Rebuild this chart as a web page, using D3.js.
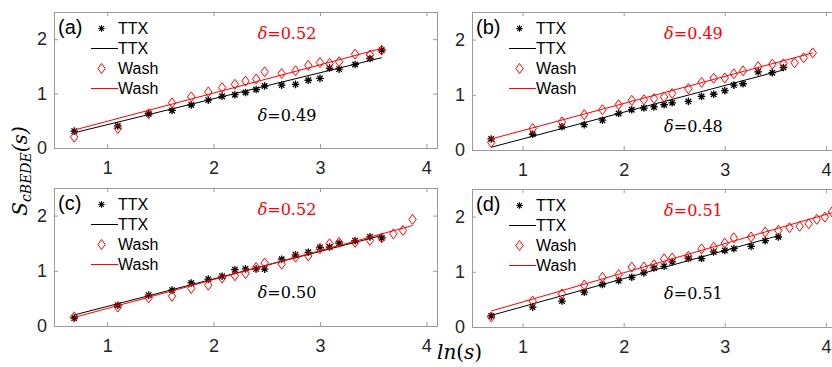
<!DOCTYPE html>
<html>
<head>
<meta charset="utf-8">
<script src="https://cdn.jsdelivr.net/npm/d3@7"></script>
<style>
  html, body { margin: 0; padding: 0; background: #fff; overflow: hidden; }
  svg { display: block; }
</style>
</head>
<body>
<div id="chart"></div>
<script>
// ── Data (x = ln(s), y = S_cBEDE(s)) ───────────────────────────────────────
const xBase = [0.69, 1.10, 1.39, 1.61, 1.79, 1.95, 2.08, 2.20, 2.30, 2.40, 2.48, 2.64, 2.77, 2.89, 3.00, 3.09, 3.18, 3.33, 3.47, 3.58];
const xLong = [0.69, 1.10, 1.39, 1.61, 1.79, 1.95, 2.08, 2.20, 2.30, 2.40, 2.48, 2.64, 2.77, 2.89, 3.00, 3.09, 3.18, 3.33, 3.47, 3.58, 3.69, 3.78, 3.87];
const xD = [0.69, 1.10, 1.39, 1.61, 1.79, 1.95, 2.08, 2.20, 2.30, 2.40, 2.48, 2.64, 2.77, 2.89, 3.00, 3.09, 3.26, 3.40, 3.53];
const xDLong = [0.69, 1.10, 1.39, 1.61, 1.79, 1.95, 2.08, 2.20, 2.30, 2.40, 2.48, 2.64, 2.77, 2.89, 3.00, 3.09, 3.26, 3.40, 3.53, 3.64, 3.74, 3.83, 3.91, 3.99, 4.06];

const ttxA = [0.31, 0.405, 0.63, 0.69, 0.79, 0.88, 0.95, 0.98, 1.02, 1.075, 1.14, 1.155, 1.17, 1.245, 1.28, 1.47, 1.45, 1.535, 1.645, 1.80];
const washA = [0.20, 0.36, 0.63, 0.83, 0.94, 1.03, 1.11, 1.17, 1.23, 1.27, 1.40, 1.37, 1.42, 1.52, 1.57, 1.555, 1.585, 1.725, 1.71, 1.80];
const ttxB = [0.20, 0.285, 0.42, 0.46, 0.54, 0.66, 0.73, 0.76, 0.78, 0.82, 0.855, 0.88, 0.97, 1.01, 1.075, 1.175, 1.20, 1.415, 1.40, 1.495];
const washB = [0.14, 0.39, 0.51, 0.64, 0.73, 0.82, 0.90, 0.91, 0.93, 0.96, 1.025, 1.11, 1.225, 1.30, 1.305, 1.38, 1.435, 1.51, 1.555, 1.56, 1.58, 1.67, 1.76];
const ttxC = [0.145, 0.376, 0.56, 0.65, 0.78, 0.85, 0.90, 1.02, 1.035, 1.035, 1.03, 1.21, 1.29, 1.335, 1.425, 1.43, 1.50, 1.545, 1.615, 1.595];
const washC = [0.165, 0.345, 0.51, 0.54, 0.68, 0.74, 0.87, 0.91, 0.95, 1.06, 1.14, 1.12, 1.245, 1.27, 1.40, 1.49, 1.515, 1.515, 1.55, 1.595, 1.67, 1.73, 1.93];
const ttxD = [0.20, 0.36, 0.47, 0.63, 0.77, 0.84, 0.90, 0.98, 1.07, 1.10, 1.18, 1.24, 1.24, 1.36, 1.385, 1.42, 1.46, 1.565, 1.63];
const washD = [0.18, 0.47, 0.60, 0.76, 0.90, 0.95, 1.085, 1.085, 1.13, 1.235, 1.25, 1.28, 1.415, 1.445, 1.52, 1.615, 1.63, 1.72, 1.75, 1.80, 1.825, 1.87, 1.95, 1.99, 2.085];

// fitted lines: y at first and last x of each series
const fitTtx = [[0.28, 1.66], [0.05, 1.45], [0.20, 1.64], [0.21, 1.655]];
const fitWash = [[0.33, 1.83], [0.20, 1.76], [0.155, 1.82], [0.29, 2.07]];

const deltaWash = ["0.52", "0.49", "0.52", "0.51"];
const deltaTtx = ["0.49", "0.48", "0.50", "0.51"];
const panelLabels = ["(a)", "(b)", "(c)", "(d)"];
const legendLabels = ["TTX", "TTX", "Wash", "Wash"];
const xTicks = [1, 2, 3, 4];
const yTicks = [0, 1, 2];

// ── Layout ────────────────────────────────────────────────────────────────
const W = 832, H = 367;
const SANS = "'Liberation Sans', Arial, Helvetica, sans-serif";
const SERIF = "'DejaVu Serif', serif";
const RED = "#ff0000";
const FRAME = "#9a9a9a";

const panels = [
  { box: [54, 437, 12, 148], xT: xBase, yT: ttxA, xW: xBase, yW: washA, blackY: 0.60 },
  { box: [472, 836, 12, 150], xT: xBase, yT: ttxB, xW: xLong, yW: washB, blackY: 0.44 },
  { box: [54, 437, 188, 326], xT: xBase, yT: ttxC, xW: xLong, yW: washC, blackY: 0.62 },
  { box: [472, 836, 189, 327], xT: xD, yT: ttxD, xW: xDLong, yW: washD, blackY: 0.61 },
];

const svg = d3.select("#chart").append("svg").attr("width", W).attr("height", H)
  .style("font-family", SANS);

function starPath(r) {
  const a = r * 0.72;
  return `M${-r},0L${r},0M0,${-r}L0,${r}M${-a},${-a}L${a},${a}M${-a},${a}L${a},${-a}`;
}
const diamondPath = "M0,-5L3.7,0L0,5L-3.7,0Z";

panels.forEach((p, i) => {
  const [x0, x1, y0, y1] = p.box;
  const x = d3.scaleLinear().domain([0.5, 4.1]).range([x0, x1]);
  const y = d3.scaleLinear().domain([0, 2.5]).range([y1, y0]);
  const g = svg.append("g");

  // ── Axes (MATLAB box, inward ticks) ─────────────────────────────────────
  const axB = g.append("g").attr("transform", `translate(0,${y1})`)
    .call(d3.axisBottom(x).tickValues(xTicks).tickSize(-4).tickPadding(13).tickFormat(d3.format("d")));
  const axT = g.append("g").attr("transform", `translate(0,${y0})`)
    .call(d3.axisTop(x).tickValues(xTicks).tickSize(-4).tickFormat(""));
  const axL = g.append("g").attr("transform", `translate(${x0},0)`)
    .call(d3.axisLeft(y).tickValues(yTicks).tickSize(-4).tickPadding(7).tickFormat(d3.format("d")));
  const axR = g.append("g").attr("transform", `translate(${x1},0)`)
    .call(d3.axisRight(y).tickValues(yTicks).tickSize(-4).tickFormat(""));
  [axB, axT, axL, axR].forEach((a) => {
    a.select(".domain").remove();
    a.selectAll("line").attr("stroke", FRAME);
    a.selectAll("text").attr("fill", "#262626").attr("font-size", 18).attr("font-family", SANS);
  });
  g.append("rect")
    .attr("x", x0 + 0.5).attr("y", y0 + 0.5)
    .attr("width", x1 - x0).attr("height", y1 - y0)
    .attr("fill", "none").attr("stroke", FRAME).attr("stroke-width", 1);

  // ── TTX stars + fit ─────────────────────────────────────────────────────
  g.append("g").selectAll("path")
    .data(d3.zip(p.xT, p.yT))
    .join("path")
    .attr("transform", (d) => `translate(${x(d[0])},${y(d[1])})`)
    .attr("d", starPath(3.8))
    .attr("stroke", "#000").attr("stroke-width", 1.3).attr("fill", "none");

  const line = d3.line().x((d) => x(d[0])).y((d) => y(d[1]));
  g.append("path")
    .datum([[p.xT[0], fitTtx[i][0]], [p.xT[p.xT.length - 1], fitTtx[i][1]]])
    .attr("d", line).attr("stroke", "#000").attr("stroke-width", 1).attr("fill", "none");

  // ── Wash diamonds + fit ─────────────────────────────────────────────────
  g.append("g").selectAll("path")
    .data(d3.zip(p.xW, p.yW))
    .join("path")
    .attr("transform", (d) => `translate(${x(d[0])},${y(d[1])})`)
    .attr("d", diamondPath)
    .attr("stroke", RED).attr("stroke-width", 1).attr("fill", "none");

  g.append("path")
    .datum([[p.xW[0], fitWash[i][0]], [p.xW[p.xW.length - 1], fitWash[i][1]]])
    .attr("d", line).attr("stroke", RED).attr("stroke-width", 1).attr("fill", "none");

  // ── Panel label ─────────────────────────────────────────────────────────
  g.append("text").text(panelLabels[i])
    .attr("x", x0 + 4).attr("y", y0 + 22)
    .attr("font-size", 20).attr("fill", "#000");

  // ── Legend ──────────────────────────────────────────────────────────────
  const lg = g.append("g").attr("transform", `translate(${x0},${y0})`);
  legendLabels.forEach((lab, k) => {
    const ry = 16.5 + k * 20;
    if (k === 0) {
      lg.append("path").attr("transform", `translate(47.5,${ry})`).attr("d", starPath(3.2))
        .attr("stroke", "#000").attr("stroke-width", 1.1).attr("fill", "none");
    } else if (k === 2) {
      lg.append("path").attr("transform", `translate(47.5,${ry})`).attr("d", diamondPath)
        .attr("stroke", RED).attr("stroke-width", 1).attr("fill", "none");
    } else {
      lg.append("line").attr("x1", 37).attr("x2", 64).attr("y1", ry).attr("y2", ry)
        .attr("stroke", k === 1 ? "#000" : RED).attr("stroke-width", 1);
    }
    lg.append("text").text(lab).attr("x", 64).attr("y", ry + 5.6)
      .attr("font-size", 16).attr("fill", "#000");
  });

  // ── δ annotations ───────────────────────────────────────────────────────
  const addDelta = (val, yv, color) => {
    const t = g.append("text")
      .attr("x", x(2.69)).attr("y", y(yv))
      .attr("text-anchor", "middle").attr("dominant-baseline", "central")
      .attr("font-family", SERIF).attr("font-size", 16).attr("fill", color);
    t.append("tspan").attr("font-style", "italic").text("δ");
    t.append("tspan").text("=" + val);
  };
  addDelta(deltaWash[i], 2.12, RED);
  addDelta(deltaTtx[i], p.blackY, "#000");
});

// ── Shared axis labels ────────────────────────────────────────────────────
const yl = svg.append("text")
  .attr("transform", "translate(27,171) rotate(-90)")
  .attr("text-anchor", "middle")
  .attr("font-family", SERIF).attr("font-style", "italic").attr("font-size", 20).attr("fill", "#000");
yl.append("tspan").text("S");
yl.append("tspan").attr("font-size", 14).attr("dy", 4).text("cBEDE");
yl.append("tspan").attr("dy", -4).text("(s)");

const xl = svg.append("text")
  .attr("x", 437).attr("y", 359)
  .attr("font-family", SERIF).attr("font-style", "italic").attr("font-size", 20).attr("fill", "#000");
xl.append("tspan").text("ln");
xl.append("tspan").attr("font-style", "normal").text("(");
xl.append("tspan").text("s");
xl.append("tspan").attr("font-style", "normal").text(")");
</script>
</body>
</html>
